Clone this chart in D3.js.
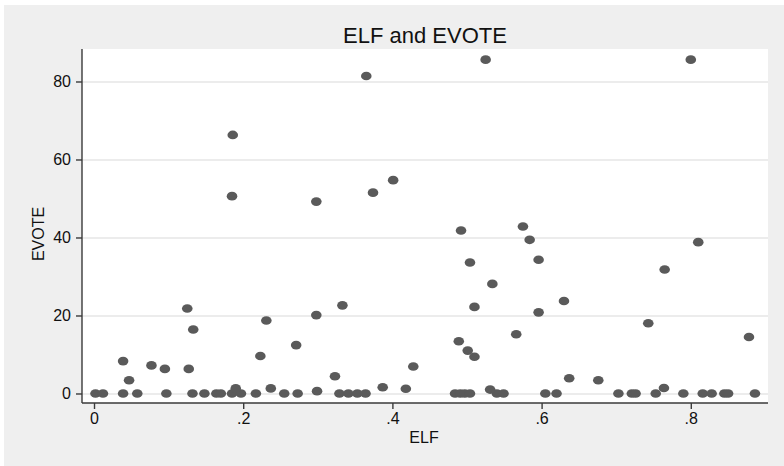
<!DOCTYPE html>
<html>
<head>
<meta charset="utf-8">
<script src="https://cdn.jsdelivr.net/npm/d3@7"></script>
<style>
  body { margin: 0; background: #fff; }
  text { font-family: "Liberation Sans", Arial, sans-serif; fill: #111; }
  .grid line { stroke: #e6e6e6; stroke-width: 1.6; }
  .grid path { display: none; }
  .axis path, .axis line { stroke: #3a3a3a; stroke-width: 1.4; }
</style>
</head>
<body>
<svg id="chart" width="784" height="466"></svg>
<script>
// ELF (x) and EVOTE (y)
var elf = [
  0.002, 0.012, 0.039, 0.058, 0.097, 0.132, 0.148, 0.164, 0.170, 0.185, 0.197, 0.217,
  0.255, 0.273, 0.329, 0.341, 0.353, 0.364, 0.484, 0.491, 0.497, 0.504, 0.540, 0.549,
  0.605, 0.620, 0.703, 0.721, 0.726, 0.753, 0.790, 0.816, 0.828, 0.845, 0.850, 0.886,
  0.039, 0.047, 0.077, 0.095, 0.125, 0.133, 0.127, 0.186, 0.185, 0.190, 0.223, 0.231,
  0.237, 0.271, 0.298, 0.298, 0.299, 0.323, 0.333, 0.365, 0.374, 0.387, 0.401, 0.418,
  0.428, 0.489, 0.492, 0.501, 0.504, 0.510, 0.510, 0.525, 0.531, 0.534, 0.566, 0.575,
  0.584, 0.596, 0.596, 0.630, 0.637, 0.676, 0.743, 0.764, 0.765, 0.800, 0.810, 0.878
];
var evote = [
  0, 0, 0, 0, 0, 0, 0, 0, 0, 0, 0, 0,
  0, 0, 0, 0, 0, 0, 0, 0, 0, 0, 0, 0,
  0, 0, 0, 0, 0, 0, 0, 0, 0, 0, 0, 0,
  8.3, 3.4, 7.2, 6.3, 21.8, 16.4, 6.3, 66.3, 50.6, 1.3, 9.6, 18.7,
  1.3, 12.4, 49.2, 20.1, 0.6, 4.4, 22.6, 81.4, 51.5, 1.6, 54.7, 1.2,
  6.9, 13.4, 41.8, 11.0, 33.6, 22.2, 9.4, 85.6, 1.0, 28.1, 15.2, 42.8,
  39.4, 34.3, 20.8, 23.7, 3.9, 3.4, 18.0, 1.4, 31.8, 85.6, 38.8, 14.5
];
var xTicks = [0, 0.2, 0.4, 0.6, 0.8];
var xTickLabels = ["0", ".2", ".4", ".6", ".8"];
var yTicks = [0, 20, 40, 60, 80];

var svg = d3.select("#chart");
var plotL = 82, plotR = 768, plotT = 49, plotB = 403;

// outer graph region
svg.append("rect").attr("x", 4).attr("y", 5).attr("width", 780).attr("height", 461)
  .attr("fill", "#efefef");
svg.append("rect").attr("x", plotL).attr("y", plotT).attr("width", plotR - plotL).attr("height", plotB - plotT)
  .attr("fill", "#ffffff");

var x = d3.scaleLinear().domain([-0.0161, 0.9035]).range([plotL, plotR]);
var y = d3.scaleLinear().domain([-2.44, 88.33]).range([plotB, plotT]);

svg.append("g").attr("class", "grid")
  .attr("transform", "translate(" + plotL + ",0)")
  .call(d3.axisLeft(y).tickValues(yTicks).tickSize(-(plotR - plotL)).tickFormat(""));

var points = d3.range(elf.length).map(function(i) { return {x: elf[i], y: evote[i]}; });
svg.append("g").selectAll("ellipse").data(points).enter()
  .append("ellipse")
  .attr("cx", function(d) { return x(d.x); })
  .attr("cy", function(d) { return y(d.y); })
  .attr("rx", 5.3)
  .attr("ry", 4.3)
  .attr("fill", "#5a5a5a");

var ya = svg.append("g").attr("class", "axis")
  .attr("transform", "translate(" + plotL + ",0)")
  .call(d3.axisLeft(y).tickValues(yTicks).tickSize(6).tickPadding(5).tickSizeOuter(0));
ya.select(".domain").attr("d", "M0," + plotT + "V" + plotB);
ya.selectAll("text").style("font-size", "16px").attr("fill", "#111");

var xa = svg.append("g").attr("class", "axis")
  .attr("transform", "translate(0," + plotB + ")")
  .call(d3.axisBottom(x).tickValues(xTicks).tickSize(6).tickPadding(4).tickSizeOuter(0)
    .tickFormat(function(d, i) { return xTickLabels[i]; }));
xa.select(".domain").attr("d", "M" + plotL + ",0H" + plotR);
xa.selectAll("text").style("font-size", "16px").attr("fill", "#111");

svg.append("text").attr("x", (plotL + plotR) / 2).attr("y", 43)
  .attr("text-anchor", "middle").style("font-size", "22px").text("ELF and EVOTE");
svg.append("text").attr("x", 424).attr("y", 443)
  .attr("text-anchor", "middle").style("font-size", "16px").text("ELF");
svg.append("text").attr("transform", "translate(44,234) rotate(-90)")
  .attr("text-anchor", "middle").style("font-size", "16px").text("EVOTE");
</script>
</body>
</html>
